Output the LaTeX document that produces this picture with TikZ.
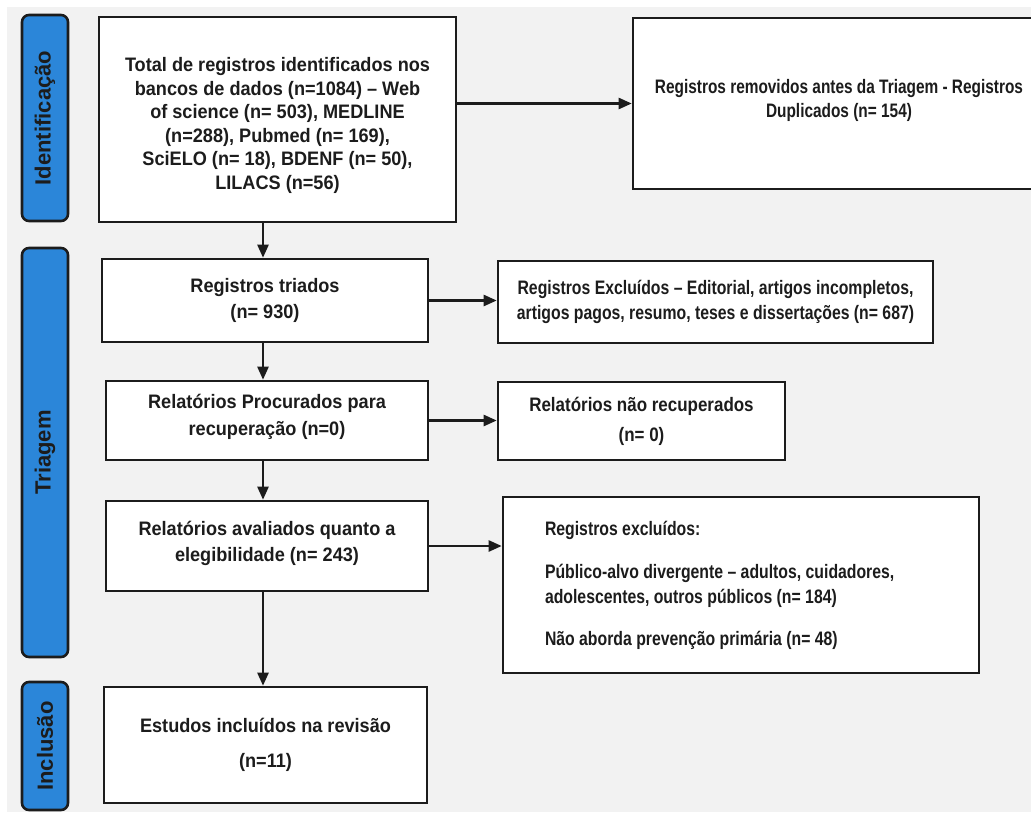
\documentclass[tikz,border=0pt]{standalone}
\usepackage{fontspec}
\setmainfont{Liberation Sans}
\newfontfamily\fLeft[FakeStretch=0.93]{Liberation Sans}
\newfontfamily\fDup[FakeStretch=0.79]{Liberation Sans}
\newfontfamily\fEx[FakeStretch=0.81]{Liberation Sans}
\newfontfamily\fNr[FakeStretch=0.87]{Liberation Sans}
\newfontfamily\fLab{Liberation Sans}
\usetikzlibrary{arrows.meta}
\definecolor{bggray}{HTML}{F2F2F2}
\definecolor{phaseblue}{HTML}{2B86D9}
\definecolor{inkdark}{HTML}{1C1C1C}
\tikzset{
  box/.style={draw=inkdark, line width=2.6pt, fill=white, inner sep=0pt, text=inkdark, align=center},
  phase/.style={draw=inkdark, line width=2.6pt, fill=phaseblue, rounded corners=7pt, inner sep=0pt, text=inkdark, font=\fLab\bfseries\fontsize{22}{26}\selectfont},
  arr/.style={draw=inkdark, line width=2.4pt, -{Triangle[length=13pt,width=11pt]}},
}
\begin{document}
\begin{tikzpicture}[x=1pt,y=-1pt]
\useasboundingbox (0,0) rectangle (1031,817);
\fill[white] (0,0) rectangle (1031,817);
\fill[bggray] (7,7) rectangle (1031,812);

% phase labels
\node[phase, minimum width=46pt, minimum height=206pt] (pid) at (45,118) {\rotatebox{90}{Identificação}};
\node[phase, minimum width=46pt, minimum height=409pt] (ptr) at (45,452.5) {\rotatebox{90}{Triagem}};
\node[phase, minimum width=46pt, minimum height=128pt] (pin) at (45,746) {\rotatebox{90}{Inclusão}};

% left column
\node[box, minimum width=357pt, minimum height=205pt, font=\fLeft\bfseries\fontsize{19.5}{23.5}\selectfont] (b1) at (277.5,119.5)
  {\rule{0pt}{26pt}Total de registros identificados nos\\bancos de dados (n=1084) – Web\\of science (n= 503), MEDLINE\\(n=288), Pubmed (n= 169),\\SciELO (n= 18), BDENF (n= 50),\\LILACS (n=56)};
\node[box, minimum width=326pt, minimum height=83pt, font=\fLeft\bfseries\fontsize{19.5}{26}\selectfont] (tri) at (265,300.5)
  {Registros triados\\(n= 930)};
\node[box, minimum width=322pt, minimum height=79pt, font=\fLeft\bfseries\fontsize{19.5}{27}\selectfont] (proc) at (267,420.5)
  {Relatórios Procurados para\\recuperação (n=0)\rule[-12pt]{0pt}{0pt}};
\node[box, minimum width=322pt, minimum height=90pt, font=\fLeft\bfseries\fontsize{19.5}{26}\selectfont] (aval) at (267,546)
  {Relatórios avaliados quanto a\\elegibilidade (n= 243)\rule[-10pt]{0pt}{0pt}};
\node[box, minimum width=323pt, minimum height=116pt, font=\fLeft\bfseries\fontsize{19.5}{35}\selectfont] (est) at (265.5,745)
  {Estudos incluídos na revisão\\(n=11)};

% right column
\node[box, minimum width=412pt, minimum height=171pt, font=\fDup\bfseries\fontsize{19.5}{24}\selectfont] (dup) at (839,103.5)
  {Registros removidos antes da Triagem - Registros\\Duplicados (n= 154)\rule[-10pt]{0pt}{0pt}};
\node[box, minimum width=435pt, minimum height=82pt, font=\fEx\bfseries\fontsize{19.5}{25}\selectfont] (exc) at (715.5,302)
  {Registros Excluídos – Editorial, artigos incompletos,\\artigos pagos, resumo, teses e dissertações (n= 687)};
\node[box, minimum width=287pt, minimum height=78pt, font=\fNr\bfseries\fontsize{19.5}{30}\selectfont] (nrec) at (641.5,421)
  {Relatórios não recuperados\\(n= 0)};
\node[box, minimum width=476pt, minimum height=176pt, align=left, font=\fEx\bfseries\fontsize{19.5}{25}\selectfont] (exc2) at (741,585)
  {\makebox[392pt][l]{Registros excluídos:}\\[18pt]Público-alvo divergente – adultos, cuidadores,\\adolescentes, outros públicos (n= 184)\\[17pt]Não aborda prevenção primária (n= 48)};

% connectors
\coordinate (col) at (263,0);
\draw[arr] (b1.south -| col) -- (tri.north -| col);
\draw[arr] (tri.south -| col) -- (proc.north -| col);
\draw[arr] (proc.south -| col) -- (aval.north -| col);
\draw[arr] (aval.south -| col) -- (est.north -| col);
\draw[arr] (b1.east |- dup.west) -- (dup.west);
\draw[arr] (tri.east) -- (tri.east -| exc.west);
\draw[arr] (proc.east) -- (proc.east -| nrec.west);
\draw[arr] (aval.east) -- (aval.east -| exc2.west);
\end{tikzpicture}
\end{document}
